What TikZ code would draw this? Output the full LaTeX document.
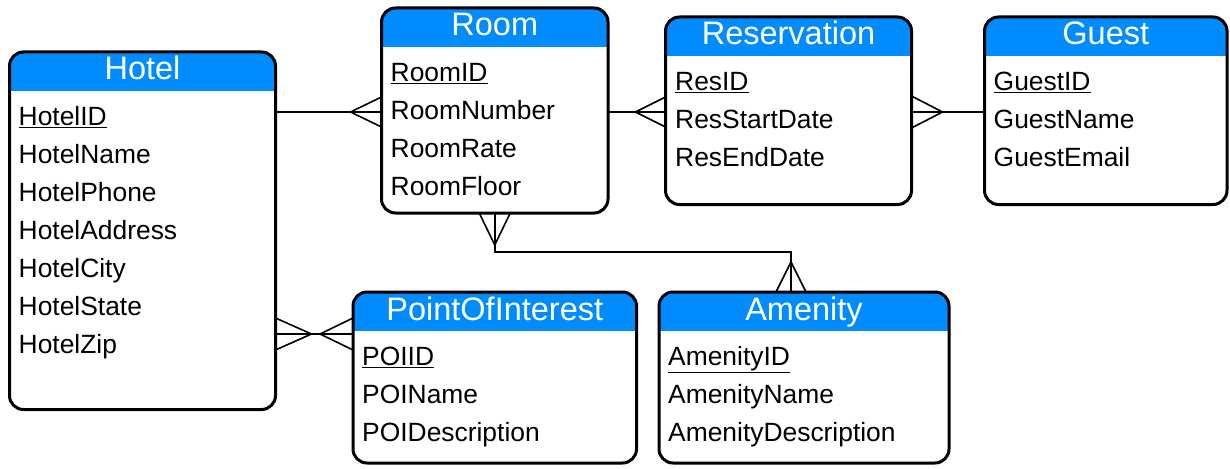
\documentclass[tikz,border=0pt]{standalone}
\usepackage{fontspec}
\setmainfont{Liberation Sans}
\usetikzlibrary{calc}
\definecolor{hdrblue}{RGB}{0,140,255}
\tikzset{
  entity/.style={draw, line width=3pt, rounded corners=14pt, inner sep=0pt, outer sep=0pt,
    fill=white, anchor=north west,
    path picture={\fill[hdrblue, sharp corners] (path picture bounding box.north west)
      rectangle ([yshift=-39pt]path picture bounding box.north east);}},
  title/.style={text=white, font=\fontsize{32.5}{32.5}\selectfont, anchor=base, inner sep=0pt},
  attr/.style={font=\fontsize{26.4}{30}\selectfont, anchor=base west, inner sep=0pt},
  link/.style={line width=1.6pt, line join=miter},
}
% entity box: name, x, y (top left), width, height, title
\newcommand{\erentity}[6]{%
  \node[entity, minimum width=#4pt, minimum height=#5pt] (#1) at (#2,#3) {};
  \node[title] (#1-title) at ([yshift=-28pt]#1.north) {#6};
}
% crow's foot: end point, offset of the tip, half spread of the feet
\newcommand{\crowfoot}[3]{%
  \draw[link] ($#1+#2$) -- ($#1+#3$) ($#1+#2$) -- ($#1-#3$);
}
\begin{document}
\begin{tikzpicture}[x=1pt, y=-1pt]
\useasboundingbox (0,0) rectangle (1230,468);

\erentity{hotel}{9.5}{52}{266}{357.5}{Hotel}
\erentity{room}{381.5}{8}{226.5}{205}{Room}
\erentity{reservation}{665.5}{17}{246}{187.5}{Reservation}
\erentity{guest}{984.5}{17}{242.5}{187.5}{Guest}
\erentity{poi}{353}{292}{283.5}{171}{PointOfInterest}
\erentity{amenity}{659}{292}{290}{171}{Amenity}

\foreach [count=\i] \a in {\underline{HotelID},HotelName,HotelPhone,HotelAddress,HotelCity,HotelState,HotelZip}
  \node[attr] (hotel-a\i) at ([xshift=9pt,yshift={-73.5pt-38pt*(\i-1)}]hotel.north west) {\a};
\foreach [count=\i] \a in {\underline{RoomID},RoomNumber,RoomRate,RoomFloor}
  \node[attr] (room-a\i) at ([xshift=9pt,yshift={-73.5pt-38pt*(\i-1)}]room.north west) {\a};
\foreach [count=\i] \a in {\underline{ResID},ResStartDate,ResEndDate}
  \node[attr] (reservation-a\i) at ([xshift=9.5pt,yshift={-73.5pt-38pt*(\i-1)}]reservation.north west) {\a};
\foreach [count=\i] \a in {\underline{GuestID},GuestName,GuestEmail}
  \node[attr] (guest-a\i) at ([xshift=9pt,yshift={-73.5pt-38pt*(\i-1)}]guest.north west) {\a};
\foreach [count=\i] \a in {\underline{POIID},POIName,POIDescription}
  \node[attr] (poi-a\i) at ([xshift=9pt,yshift={-73.5pt-38pt*(\i-1)}]poi.north west) {\a};
\foreach [count=\i] \a in {\underline{AmenityID},AmenityName,AmenityDescription}
  \node[attr] (amenity-a\i) at ([xshift=9pt,yshift={-73.5pt-38pt*(\i-1)}]amenity.north west) {\a};

% connector levels
\coordinate (topline) at (0,112);
\coordinate (midline) at (0,252);
\coordinate (poiline) at (0,334);
\coordinate (amenityend) at ([xshift=-13pt]amenity.north);

% Hotel -- Room
\draw[link] (hotel.east |- topline) -- (room.west |- topline);
\crowfoot{(room.west |- topline)}{(-31,0)}{(0,15)}
% Room -- Reservation
\draw[link] (room.east |- topline) -- (reservation.west |- topline);
\crowfoot{(reservation.west |- topline)}{(-30,0)}{(0,15)}
% Reservation -- Guest
\draw[link] (reservation.east |- topline) -- (guest.west |- topline);
\crowfoot{(reservation.east |- topline)}{(31,0)}{(0,16)}
% Room -- Amenity
\draw[link] (room.south) |- (midline -| amenityend) -- (amenityend);
\crowfoot{(room.south)}{(0,32)}{(15.5,0)}
\crowfoot{(amenityend)}{(0,-30)}{(15,0)}
% Hotel -- PointOfInterest
\draw[link] (hotel.east |- poiline) -- (poi.west |- poiline);
\crowfoot{(hotel.east |- poiline)}{(36,0)}{(0,16)}
\crowfoot{(poi.west |- poiline)}{(-33,0)}{(0,16)}
\end{tikzpicture}
\end{document}
